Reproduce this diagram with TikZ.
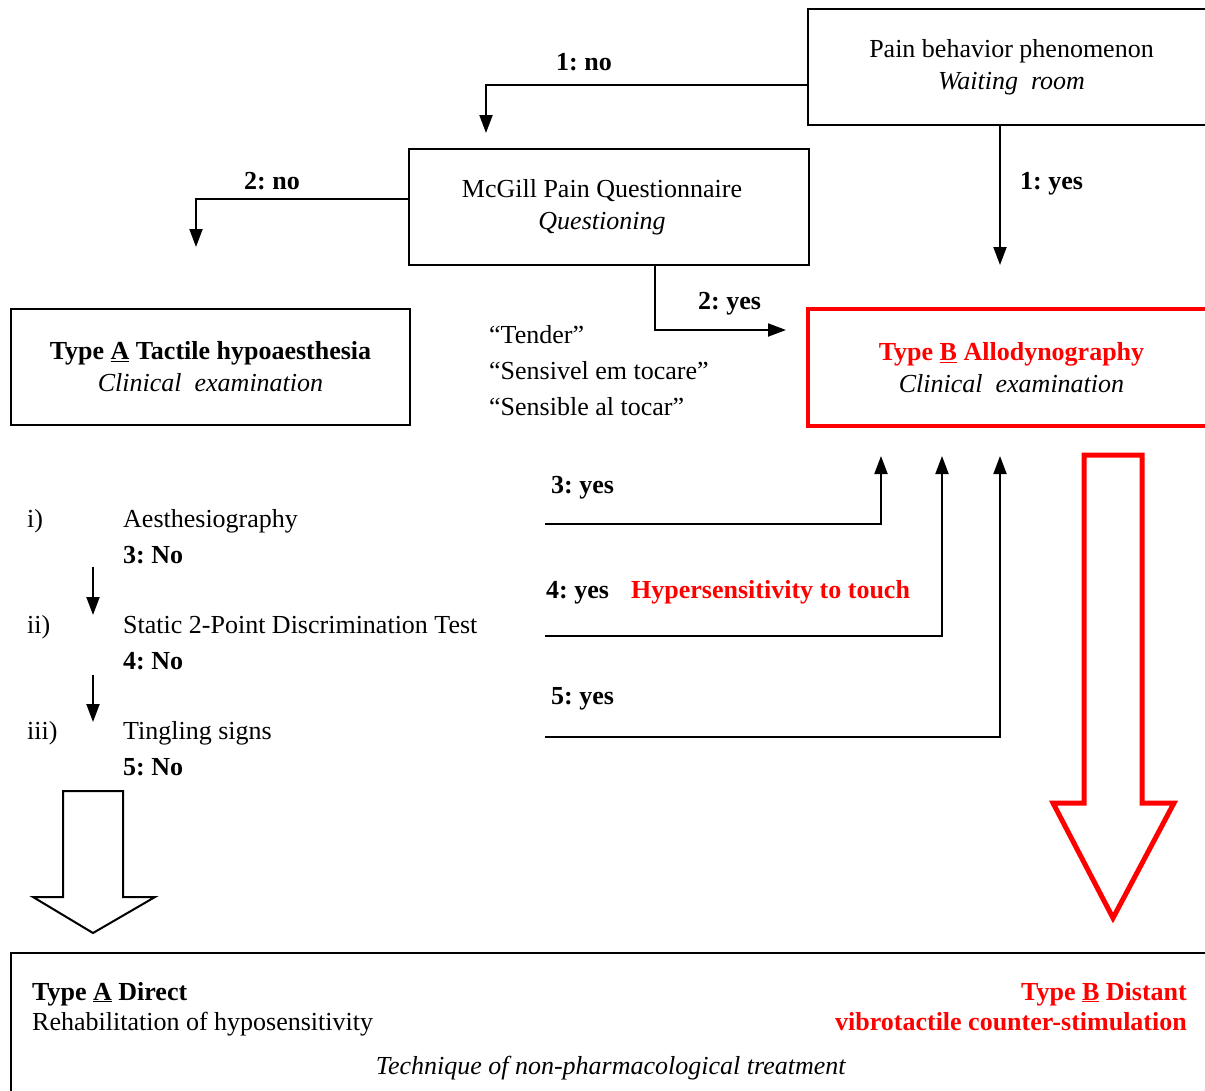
\documentclass[tikz,border=0pt]{standalone}
\usepackage{fontspec}
\setmainfont{Liberation Serif}
\usetikzlibrary{arrows.meta}
\frenchspacing
\begin{document}
\begin{tikzpicture}[x=1pt,y=-1pt,
  every node/.style={font=\fontsize{26}{32}\selectfont},
  box/.style={draw,line width=2pt,inner sep=0pt,align=center,minimum height=116pt},
  redbox/.style={box,draw=red,line width=4.5pt},
  txt/.style={inner sep=0pt},
  lbl/.style={inner sep=0pt,font=\fontsize{26}{32}\selectfont\bfseries},
  conn/.style={line width=2pt,-{Triangle[length=18pt,width=13pt]}},
]
\useasboundingbox (0,0) rectangle (1205,1090);
\fill[white] (0,0) rectangle (1205,1090);
\clip (0,0) rectangle (1205,1090);

% --- main boxes ---
\node[box,minimum width=407pt] (pain) at (1011.5,67)
  {Pain behavior phenomenon\\\textit{Waiting\ \ room}};
\node[box,minimum width=400pt] (mcgill) at (609,207)
  {McGill Pain Questionnaire\hspace*{14pt}\\\textit{Questioning}\hspace*{14pt}};
\node[box,minimum width=399pt] (typeA) at (210.5,367)
  {\textbf{Type \underline{A} Tactile hypoaesthesia}\\\textit{Clinical\ \ examination}};
\node[redbox,minimum width=407pt,minimum height=117pt] (typeB) at (1011.5,367.5)
  {\textcolor{red}{\textbf{Type \underline{B} Allodynography}}\\\textit{Clinical\ \ examination}};

% --- first decisions ---
\coordinate (noTipA) at (486,133);
\draw[conn] ([yshift=-18pt]pain.west) -| (noTipA);
\node[lbl] (lNo1) at (584,62) {1: no};

\coordinate (yesTipA) at (1000,265);
\draw[conn] (pain.south -| yesTipA) -- (yesTipA);
\node[lbl,anchor=base west] (lYes1) at (1020,189) {1: yes};

\coordinate (noTipB) at (196,247);
\draw[conn] ([yshift=8pt]mcgill.west) -| (noTipB);
\node[lbl,anchor=base west] (lNo2) at (244,189) {2: no};

\coordinate (yesTipB) at (786,330);
\draw[conn] ([xshift=46pt]mcgill.south) |- (yesTipB);
\node[lbl,anchor=base west] (lYes2) at (698,309) {2: yes};

% --- patient wording ---
\node[txt,anchor=base west] (q1) at (489,343) {``Tender''};
\node[txt,anchor=base west] (q2) at (489,379) {``Sensivel em tocare''};
\node[txt,anchor=base west] (q3) at (489,415) {``Sensible al tocar''};

% --- clinical tests ---
\node[txt,anchor=base west] (n1) at (27,527) {i)};
\node[txt,anchor=base west] (t1) at (123,527) {Aesthesiography};
\node[lbl,anchor=base west] (r1) at (123,563) {3: No};
\node[txt,anchor=base west] (n2) at (27,633) {ii)};
\node[txt,anchor=base west] (t2) at (123,633) {Static 2-Point Discrimination Test};
\node[lbl,anchor=base west] (r2) at (123,669) {4: No};
\node[txt,anchor=base west] (n3) at (27,739) {iii)};
\node[txt,anchor=base west] (t3) at (123,739) {Tingling signs};
\node[lbl,anchor=base west] (r3) at (123,775) {5: No};

\coordinate (d1s) at (93,567); \coordinate (d1e) at (93,615);
\coordinate (d2s) at (93,675); \coordinate (d2e) at (93,722);
\draw[conn] (d1s) -- (d1e);
\draw[conn] (d2s) -- (d2e);

% --- positive results back to type B ---
\coordinate (y3s) at (545,524); \coordinate (y3e) at (881,456);
\coordinate (y4s) at (545,636); \coordinate (y4e) at (942,456);
\coordinate (y5s) at (545,737); \coordinate (y5e) at (1000,456);
\draw[conn] (y3s) -| (y3e);
\draw[conn] (y4s) -| (y4e);
\draw[conn] (y5s) -| (y5e);
\node[lbl,anchor=base west] (lYes3) at (551,493) {3: yes};
\node[lbl,anchor=base west] (lYes4) at (546,598) {4: yes};
\node[lbl,anchor=base west,text=red] (hyper) at (631,598) {Hypersensitivity to touch};
\node[lbl,anchor=base west] (lYes5) at (551,704) {5: yes};

% --- block arrows to treatment ---
\draw[line width=2pt,miter limit=10] (63,791) -- (123,791) -- (123,897) -- (155,897)
  -- (93,933) -- (33,897) -- (63,897) -- cycle;
\draw[red,line width=5pt,miter limit=10] (1084,455) -- (1142,455) -- (1142,803)
  -- (1174,803) -- (1113,918) -- (1053,803) -- (1084,803) -- cycle;

% --- treatment box ---
\node[draw,line width=2.5pt,inner sep=0pt,minimum width=1204pt,minimum height=150pt]
  (treat) at (613,1028) {};
\node[lbl,anchor=base west] (tA) at (32,1000) {Type \underline{A} Direct};
\node[txt,anchor=base west] (tAd) at (32,1030) {Rehabilitation of hyposensitivity};
\node[lbl,anchor=base east,text=red] (tB) at (1187,1000) {Type \underline{B} Distant};
\node[lbl,anchor=base east,text=red] (tBd) at (1187,1030) {vibrotactile counter-stimulation};
\node[txt,anchor=base] (tech) at (611,1074) {\textit{Technique of non-pharmacological treatment}};
\end{tikzpicture}
\end{document}
